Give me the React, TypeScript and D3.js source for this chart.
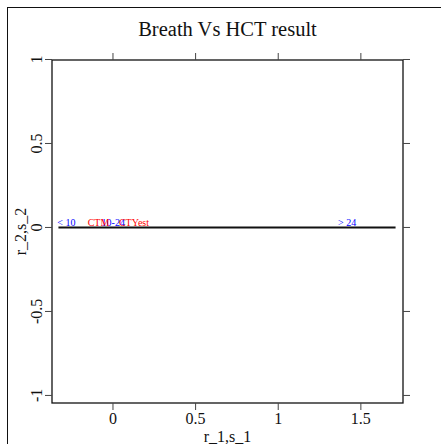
import React from "react";
import * as d3 from "d3";

const title = "Breath Vs HCT result";
const xLabel = "r_1,s_1";
const yLabel = "r_2,s_2";
const xTicks = [0, 0.5, 1, 1.5];
const xTickLabels = ["0", "0.5", "1", "1.5"];
const yTicks = [-1, -0.5, 0, 0.5, 1];
const yTickLabels = ["-1", "-0.5", "0", "0.5", "1"];

// horizontal line series
const lineX = [-0.33, 1.71];
const lineY = [0, 0];

// text labels
const blueLabels = ["< 10", "10-24", "> 24"];
const blueX = [-0.337, -0.069, 1.362];
const redLabels = ["CTM", "CTYest"];
const redX = [-0.153, 0.036];

export default function App() {
  const W = 441, H = 444;
  const left = 52, right = 403, top = 60, bottom = 403;
  const x = d3.scaleLinear().domain([-0.369, 1.755]).range([left, right]);
  const y = d3.scaleLinear().domain([-1.045, 0.997]).range([bottom, top]);
  const line = d3.line<number>().x((d, i) => x(lineX[i])).y((d) => y(d));
  const serif = "'Liberation Serif', 'Times New Roman', serif";
  const tick = 7;
  return (
    <svg width={W} height={H} style={{ position: "absolute", left: 0, top: 0, background: "#fff" }} fontFamily={serif}>
      <rect x={7.5} y={7.5} width={460} height={460} fill="none" stroke="#111" strokeWidth={1} />
      <text x={(left + right) / 2} y={36} textAnchor="middle" fontSize={20.5} fill="#111">{title}</text>
      <rect x={left} y={top} width={right - left} height={bottom - top} fill="none" stroke="#111" strokeWidth={1.3} />
      {xTicks.map((t, i) => (
        <g key={"x" + i}>
          <line x1={x(t)} x2={x(t)} y1={bottom} y2={bottom + tick} stroke="#444" />
          <line x1={x(t)} x2={x(t)} y1={top} y2={top - tick} stroke="#444" />
          <text x={x(t)} y={424} textAnchor="middle" fontSize={16} fill="#111">{xTickLabels[i]}</text>
        </g>
      ))}
      {yTicks.map((t, i) => (
        <g key={"y" + i}>
          <line x1={left} x2={left - tick} y1={y(t)} y2={y(t)} stroke="#444" />
          <line x1={right} x2={right + tick} y1={y(t)} y2={y(t)} stroke="#444" />
          <text transform={`translate(42,${y(t)}) rotate(-90)`} textAnchor="middle" fontSize={16} fill="#111">{yTickLabels[i]}</text>
        </g>
      ))}
      <text x={(left + right) / 2} y={442} textAnchor="middle" fontSize={16} fill="#111">{xLabel}</text>
      <text transform={`translate(26,${(top + bottom) / 2}) rotate(-90)`} textAnchor="middle" fontSize={16} fill="#111">{yLabel}</text>
      <path d={line(lineY) || ""} stroke="#111" strokeWidth={2} fill="none" />
      {blueLabels.map((l, i) => (
        <text key={"b" + i} x={x(blueX[i])} y={y(0) - 1} fontSize={10} fill="#0000ff">{l}</text>
      ))}
      {redLabels.map((l, i) => (
        <text key={"r" + i} x={x(redX[i])} y={y(0) - 1} fontSize={10} fill="#ff0000">{l}</text>
      ))}
    </svg>
  );
}
